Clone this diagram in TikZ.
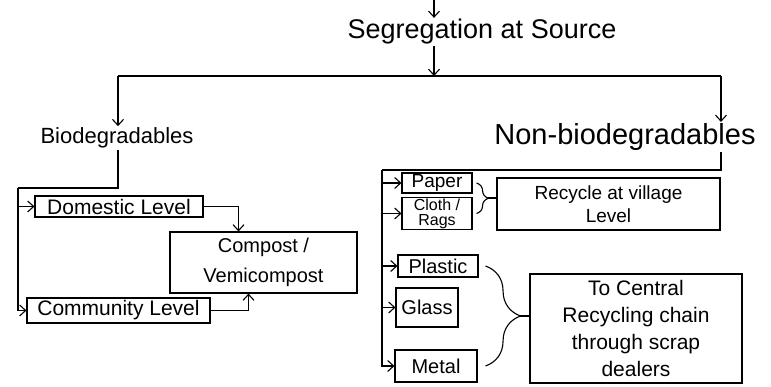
\documentclass[tikz,border=0pt]{standalone}
\usepackage{fontspec}
\setmainfont{Liberation Sans}
\usetikzlibrary{
  arrows.meta,
  decorations.pathreplacing
}

\begin{document}
\begin{tikzpicture}[x=1pt, y=-1pt, line width=1.1pt,
    every node/.style={inner sep=1pt},
    arr/.style={-{Straight Barb[length=6pt,width=11pt]}},
    box/.style={draw, align=center, font=\fontsize{20}{23}\selectfont}]
                    \useasboundingbox (0,0) rectangle (771,387);

                    % Source and the two main groups
                    \coordinate (src) at (434,0);
                    \node[font=\fontsize{27}{30}\selectfont] (seg) at (482,32) {Segregation at Source};
                    \node[font=\fontsize{22}{25}\selectfont] (bio) at (117,138) {Biodegradables};
                    \node[font=\fontsize{29}{32}\selectfont] (nonbio) at (625,137) {Non-biodegradables};
                    \coordinate (split) at (434,76);
                    \coordinate (bl) at (118,76);
                    \coordinate (br) at (721,76);
                    \draw[arr] (src) -- (src |- seg.north);
                    \draw[arr] (seg.south -| split) -- (split);
                    \draw (bl) -- (br);
                    \draw[arr] (bl) -- (bl |- bio.north);
                    \draw[arr] (br) -- (br |- nonbio.north);

                    % Biodegradables
                    \node[box, font=\fontsize{21}{24}\selectfont, minimum width=168, minimum height=21] (dom) at (119,206.5) {Domestic Level};
                    \node[box, font=\fontsize{21}{24}\selectfont, minimum width=183, minimum height=25] (com) at (118.5,310.5) {Community Level};
                    \node[box, font=\fontsize{20}{30}\selectfont, minimum width=187, minimum height=61] (comp) at (263.5,262.5) {Compost /\\Vemicompost};
                    \coordinate (bj) at (118,188);
                    \coordinate (bv) at (18,188);
                    \draw (bio.south -| bj) -- (bj) -- (bv);
                    \draw[arr] (bv) |- (dom.west);
                    \draw[arr] (bv) |- (com.west);
                    \draw[arr] (dom.east) -| ([xshift=-25pt]comp.north);
                    \draw[arr] (com.east) -| ([xshift=-15pt]comp.south);

                    % Non-biodegradables
                    \node[box, font=\fontsize{19}{20}\selectfont, minimum width=70, minimum height=20] (pap) at (437,183) {Paper};
                    \node[box, font=\fontsize{16}{15}\selectfont, minimum width=70, minimum height=31] (clo) at (437,213.5) {Cloth /\\Rags};
                    \node[box, font=\fontsize{19}{23}\selectfont, minimum width=223, minimum height=52] (rec) at (608.5,204) {Recycle at village\\Level};
                    \node[box, font=\fontsize{20}{22}\selectfont, minimum width=80, minimum height=22] (pla) at (438,266) {Plastic};
                    \node[box, font=\fontsize{20}{22}\selectfont, minimum width=62, minimum height=39] (gla) at (427,307.5) {Glass};
                    \node[box, font=\fontsize{20}{22}\selectfont, minimum width=82, minimum height=32] (met) at (436,366) {Metal};
                    \node[box, font=\fontsize{21}{27}\selectfont, minimum width=212, minimum height=109] (cen) at (636,328.5) {To Central\\Recycling chain\\through scrap\\dealers};
                    \coordinate (nj) at (721,170);
                    \coordinate (nv) at (382,170);
                    \draw (nonbio.south -| nj) -- (nj) -- (nv);
                    \draw[arr] (nv) |- (pap.west);
                    \draw[arr] (nv) |- (clo.west);
                    \draw[arr] (nv) |- (pla.west);
                    \draw[arr] (nv) |- (gla.west);
                    \draw[arr] (nv) |- (met.west);

                    % Braces
                    \coordinate (tipa) at (488,198);
                    \coordinate (tipb) at (520,316);
                    \draw[decorate, decoration={brace, amplitude=12pt}] ([xshift=4pt]pap.east) -- ([xshift=4pt]clo.east);
                    \draw (tipa) -- (rec.west |- tipa);
                    \draw[decorate, decoration={brace, amplitude=35pt}] ([xshift=7pt]pla.east) -- ([xshift=8pt]met.east);
                    \draw (tipb) -- (cen.west |- tipb);
                \end{tikzpicture}
\end{document}
